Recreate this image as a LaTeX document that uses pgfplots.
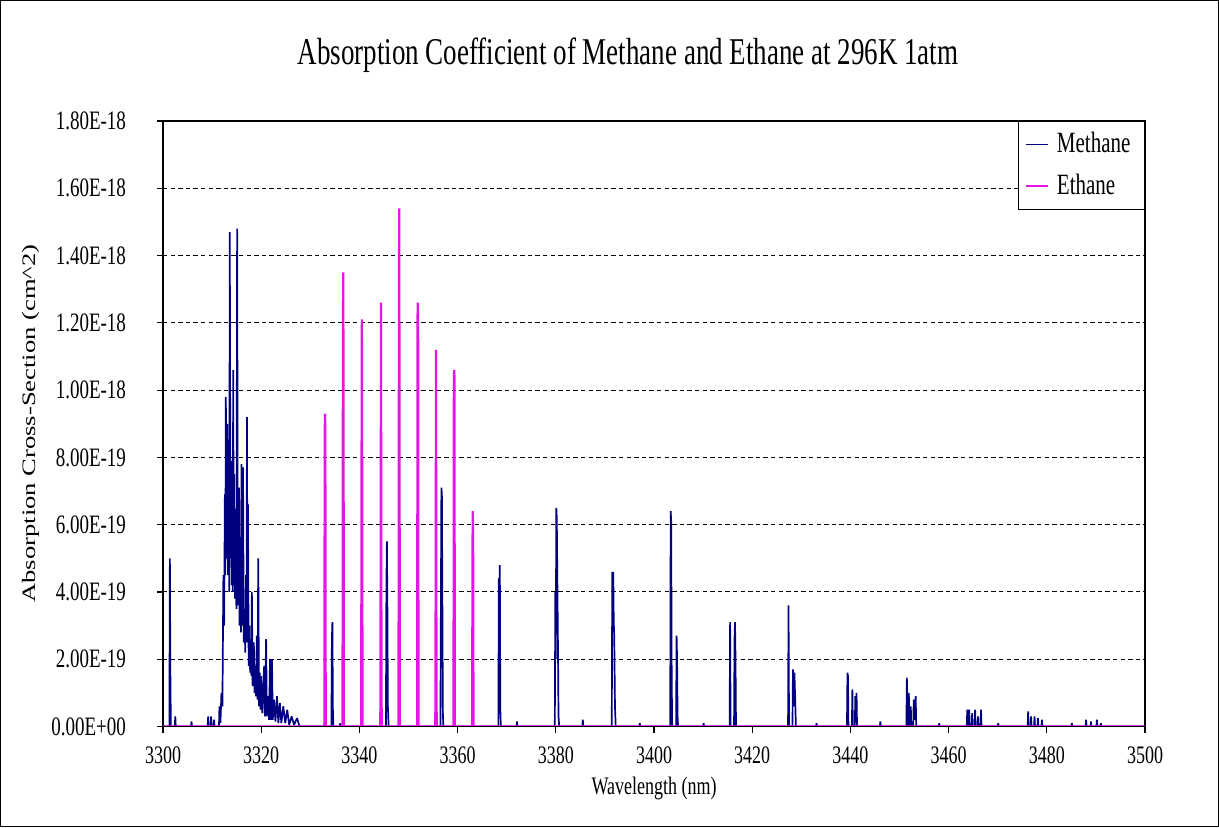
\documentclass[border=0pt]{standalone}
\usepackage{fontspec}
\setmainfont{Liberation Serif}
\usepackage{graphicx}
\usepackage{pgfplots}
\usepackage{pgfplotstable}
\pgfplotsset{compat=1.18}

\definecolor{methane}{RGB}{0,0,128}
\definecolor{ethane}{RGB}{230,20,230}

% Methane absorption cross-section (cm^2) versus wavelength (nm)
\pgfplotstableread{
x y
3300.0 0
3301.3 0
3301.4 5.0e-19
3301.5 1.6e-19
3301.6 0
3302.4 0
3302.5 0.3e-19
3302.6 0
3305.7 0
3305.8 0.15e-19
3305.9 0
3309.1 0
3309.2 0.3e-19
3309.3 0
3309.7 0
3309.8 0.3e-19
3309.9 0
3310.3 0
3310.4 0.2e-19
3310.5 0
3311.4 0
3311.5 0.6e-19
3311.7 0.1e-19
3311.9 1.0e-19
3312.1 0.6e-19
3312.3 4.5e-19
3312.45 3.0e-19
3312.6 6.9e-19
3312.7 4.5e-19
3312.8 9.8e-19
3312.95 5.0e-19
3313.1 9.0e-19
3313.25 4.5e-19
3313.4 5.5e-19
3313.5 4.0e-19
3313.6 14.7e-19
3313.75 5.0e-19
3313.9 6.0e-19
3314.0 4.2e-19
3314.1 7.9e-19
3314.2 4.0e-19
3314.3 10.6e-19
3314.4 4.2e-19
3314.5 7.5e-19
3314.65 3.8e-19
3314.8 5.0e-19
3314.95 3.5e-19
3315.1 14.8e-19
3315.25 3.6e-19
3315.4 4.5e-19
3315.5 7.1e-19
3315.6 3.0e-19
3315.8 4.0e-19
3315.9 2.8e-19
3316.0 7.8e-19
3316.15 3.0e-19
3316.3 7.7e-19
3316.45 2.5e-19
3316.6 3.5e-19
3316.75 2.2e-19
3316.9 4.5e-19
3317.0 2.5e-19
3317.1 9.2e-19
3317.2 2.8e-19
3317.3 6.6e-19
3317.45 1.8e-19
3317.6 3.0e-19
3317.75 1.6e-19
3317.9 2.5e-19
3318.0 1.5e-19
3318.1 4.0e-19
3318.25 1.2e-19
3318.35 2.0e-19
3318.5 2.5e-19
3318.65 1.0e-19
3318.8 1.8e-19
3318.95 0.9e-19
3319.1 2.7e-19
3319.25 0.8e-19
3319.4 5.0e-19
3319.55 0.6e-19
3319.7 1.6e-19
3319.85 0.5e-19
3320.0 1.5e-19
3320.2 0.4e-19
3320.4 1.0e-19
3320.6 1.8e-19
3320.75 0.3e-19
3321.0 2.6e-19
3321.15 0.3e-19
3321.4 0.9e-19
3321.6 0.2e-19
3321.8 2.0e-19
3321.95 0.2e-19
3322.2 2.0e-19
3322.35 0.2e-19
3322.6 0.8e-19
3322.9 0.15e-19
3323.2 0.9e-19
3323.5 0.1e-19
3323.8 0.7e-19
3324.1 0.1e-19
3324.5 0.6e-19
3324.9 0.1e-19
3325.3 0.5e-19
3325.7 0.05e-19
3326.2 0.3e-19
3326.7 0.05e-19
3327.3 0.25e-19
3327.8 0
3334.3 0
3334.4 2.6e-19
3334.5 3.1e-19
3334.6 0.5e-19
3334.7 0
3336.0 0
3336.1 0.1e-19
3336.2 0
3345.4 0
3345.5 4.2e-19
3345.6 5.5e-19
3345.7 3.6e-19
3345.8 0.6e-19
3345.95 0
3356.5 0
3356.6 3.7e-19
3356.7 7.1e-19
3356.8 6.9e-19
3356.9 3.7e-19
3357.0 0.4e-19
3357.1 0
3368.3 0
3368.4 4.4e-19
3368.5 4.0e-19
3368.6 4.8e-19
3368.7 0.5e-19
3368.8 0
3372.0 0
3372.1 0.15e-19
3372.2 0
3379.8 0
3379.9 4.0e-19
3380.0 2.0e-19
3380.1 6.5e-19
3380.2 6.2e-19
3380.3 4.6e-19
3380.45 2.2e-19
3380.55 0.3e-19
3380.7 0
3385.4 0
3385.5 0.2e-19
3385.6 0
3391.4 0
3391.5 4.6e-19
3391.6 2.8e-19
3391.7 4.6e-19
3391.8 3.1e-19
3391.9 2.7e-19
3392.05 0.6e-19
3392.2 0
3397.0 0
3397.1 0.1e-19
3397.2 0
3403.3 0
3403.4 6.4e-19
3403.5 6.1e-19
3403.6 1.5e-19
3403.7 0
3404.5 0
3404.6 2.7e-19
3404.7 2.0e-19
3404.8 0.3e-19
3404.9 0
3410.0 0
3410.1 0.1e-19
3410.2 0
3415.4 0
3415.5 3.1e-19
3415.6 0
3416.3 0
3416.4 2.6e-19
3416.5 3.1e-19
3416.6 2.0e-19
3416.7 0
3427.3 0
3427.4 3.6e-19
3427.5 0
3428.2 0
3428.3 1.7e-19
3428.45 0.6e-19
3428.6 1.6e-19
3428.75 0.8e-19
3428.9 0
3433.0 0
3433.1 0.1e-19
3433.2 0
3439.3 0
3439.4 1.6e-19
3439.5 1.5e-19
3439.6 0
3440.3 0
3440.4 1.1e-19
3440.5 0
3440.9 0
3441.0 0.9e-19
3441.1 0.3e-19
3441.25 1.0e-19
3441.35 0
3446.0 0
3446.1 0.15e-19
3446.2 0
3451.4 0
3451.5 1.45e-19
3451.6 0
3451.8 0
3451.9 1.0e-19
3452.0 0
3452.2 0
3452.3 0.6e-19
3452.4 0
3452.8 0
3452.9 0.8e-19
3453.0 0.2e-19
3453.3 0.9e-19
3453.4 0
3458.0 0
3458.1 0.1e-19
3458.2 0
3463.7 0
3463.8 0.5e-19
3463.9 0
3464.1 0
3464.2 0.5e-19
3464.3 0
3464.7 0
3464.8 0.4e-19
3464.9 0
3465.3 0
3465.4 0.5e-19
3465.5 0
3465.9 0
3466.0 0.3e-19
3466.1 0
3466.5 0
3466.6 0.5e-19
3466.7 0
3470.0 0
3470.1 0.1e-19
3470.2 0
3476.1 0
3476.2 0.45e-19
3476.3 0
3476.7 0
3476.8 0.3e-19
3476.9 0
3477.4 0
3477.5 0.3e-19
3477.6 0
3478.1 0
3478.2 0.25e-19
3478.3 0
3478.9 0
3479.0 0.2e-19
3479.1 0
3485.0 0
3485.1 0.1e-19
3485.2 0
3487.9 0
3488.0 0.2e-19
3488.1 0
3488.9 0
3489.0 0.15e-19
3489.1 0
3490.1 0
3490.2 0.2e-19
3490.3 0
3490.9 0
3491.0 0.1e-19
3491.1 0
3500.0 0
}\methane

% Ethane absorption cross-section (cm^2) versus wavelength (nm)
\pgfplotstableread{
x y
3300.0 0
3332.86 0
3332.94 8.8e-19
3333.0 9.3e-19
3333.06 8.8e-19
3333.14 0
3336.56 0
3336.64 11.0e-19
3336.7 13.5e-19
3336.76 11.0e-19
3336.84 0
3340.36 0
3340.44 8.0e-19
3340.5 12.1e-19
3340.56 8.0e-19
3340.64 0
3344.26 0
3344.34 5.7e-19
3344.4 12.6e-19
3344.46 4.6e-19
3344.54 0
3347.96 0
3348.04 10.9e-19
3348.1 15.4e-19
3348.16 10.9e-19
3348.24 0
3351.76 0
3351.84 12.2e-19
3351.9 12.6e-19
3351.96 12.2e-19
3352.04 0
3355.46 0
3355.54 4.7e-19
3355.6 11.2e-19
3355.66 4.4e-19
3355.74 0
3359.16 0
3359.24 10.4e-19
3359.3 10.6e-19
3359.36 10.4e-19
3359.44 0
3362.96 0
3363.04 5.5e-19
3363.1 6.4e-19
3363.16 5.5e-19
3363.24 0
3500.0 0
}\ethane

\begin{document}
\begin{tikzpicture}
\useasboundingbox (0,0) rectangle (609.5pt,413.5pt);
\draw[black, line width=0.6pt] (0.3pt,0.3pt) rectangle (609.2pt,413.2pt);

\begin{axis}[
  at={(81.5pt,50.25pt)}, anchor=south west,
  scale only axis, width=491pt, height=302.75pt,
  xmin=3300, xmax=3500, ymin=0, ymax=1.8e-18,
  xtick={3300,3320,3340,3360,3380,3400,3420,3440,3460,3480,3500},
  ytick={0,2e-19,4e-19,6e-19,8e-19,1e-18,1.2e-18,1.4e-18,1.6e-18,1.8e-18},
  yticklabels={0.00E+00,2.00E-19,4.00E-19,6.00E-19,8.00E-19,1.00E-18,1.20E-18,1.40E-18,1.60E-18,1.80E-18},
  scaled x ticks=false, scaled y ticks=false,
  /pgf/number format/1000 sep={},
  /pgf/number format/assume math mode=true,
  xticklabel style={font=\fontsize{9}{10}\selectfont, yscale=1.4, yshift=-1.5pt},
  yticklabel style={font=\fontsize{9.5}{11}\selectfont, yscale=1.4, xshift=-12pt},
  tick align=outside, xtick pos=left, ytick pos=left,
  major tick length=3pt,
  tick style={black, line width=0.6pt},
  axis line style={black, line width=0.9pt},
  ymajorgrids,
  major grid style={black, line width=0.5pt, dash pattern=on 2.2pt off 1.6pt},
  legend style={at={(1,1)}, anchor=north east, draw=black, line width=0.6pt,
    font=\fontsize{10.5}{12}\selectfont, nodes={yscale=1.4, inner xsep=4pt},
    inner xsep=3pt, inner ysep=2.5pt, row sep=3pt},
  legend cell align=left,
  legend image code/.code={\draw[#1] (0pt,0pt) -- (11pt,0pt);},
]
\addplot[methane, line width=0.85pt, line join=bevel, mark=none] table[x=x, y=y] {\methane};
\addlegendentry{Methane}
\addplot[ethane, line width=1.1pt, line join=bevel, mark=none] table[x=x, y=y] {\ethane};
\addlegendentry{Ethane}
\draw[black, line width=0.9pt] (rel axis cs:0,0) -- (rel axis cs:1,0);
\end{axis}

\node[font=\fontsize{13.5}{16}\selectfont] at (314pt,386pt)
  {\scalebox{1}[1.4]{Absorption Coefficient of Methane and Ethane at 296K 1atm}};
\node[font=\fontsize{9}{11}\selectfont] at (327pt,19.5pt)
  {\scalebox{1}[1.4]{Wavelength (nm)}};
\node[font=\fontsize{9.5}{11}\selectfont, rotate=90] at (15.5pt,201.75pt)
  {\scalebox{1.4}[1]{Absorption Cross-Section (cm\textasciicircum 2)}};
\end{tikzpicture}
\end{document}
